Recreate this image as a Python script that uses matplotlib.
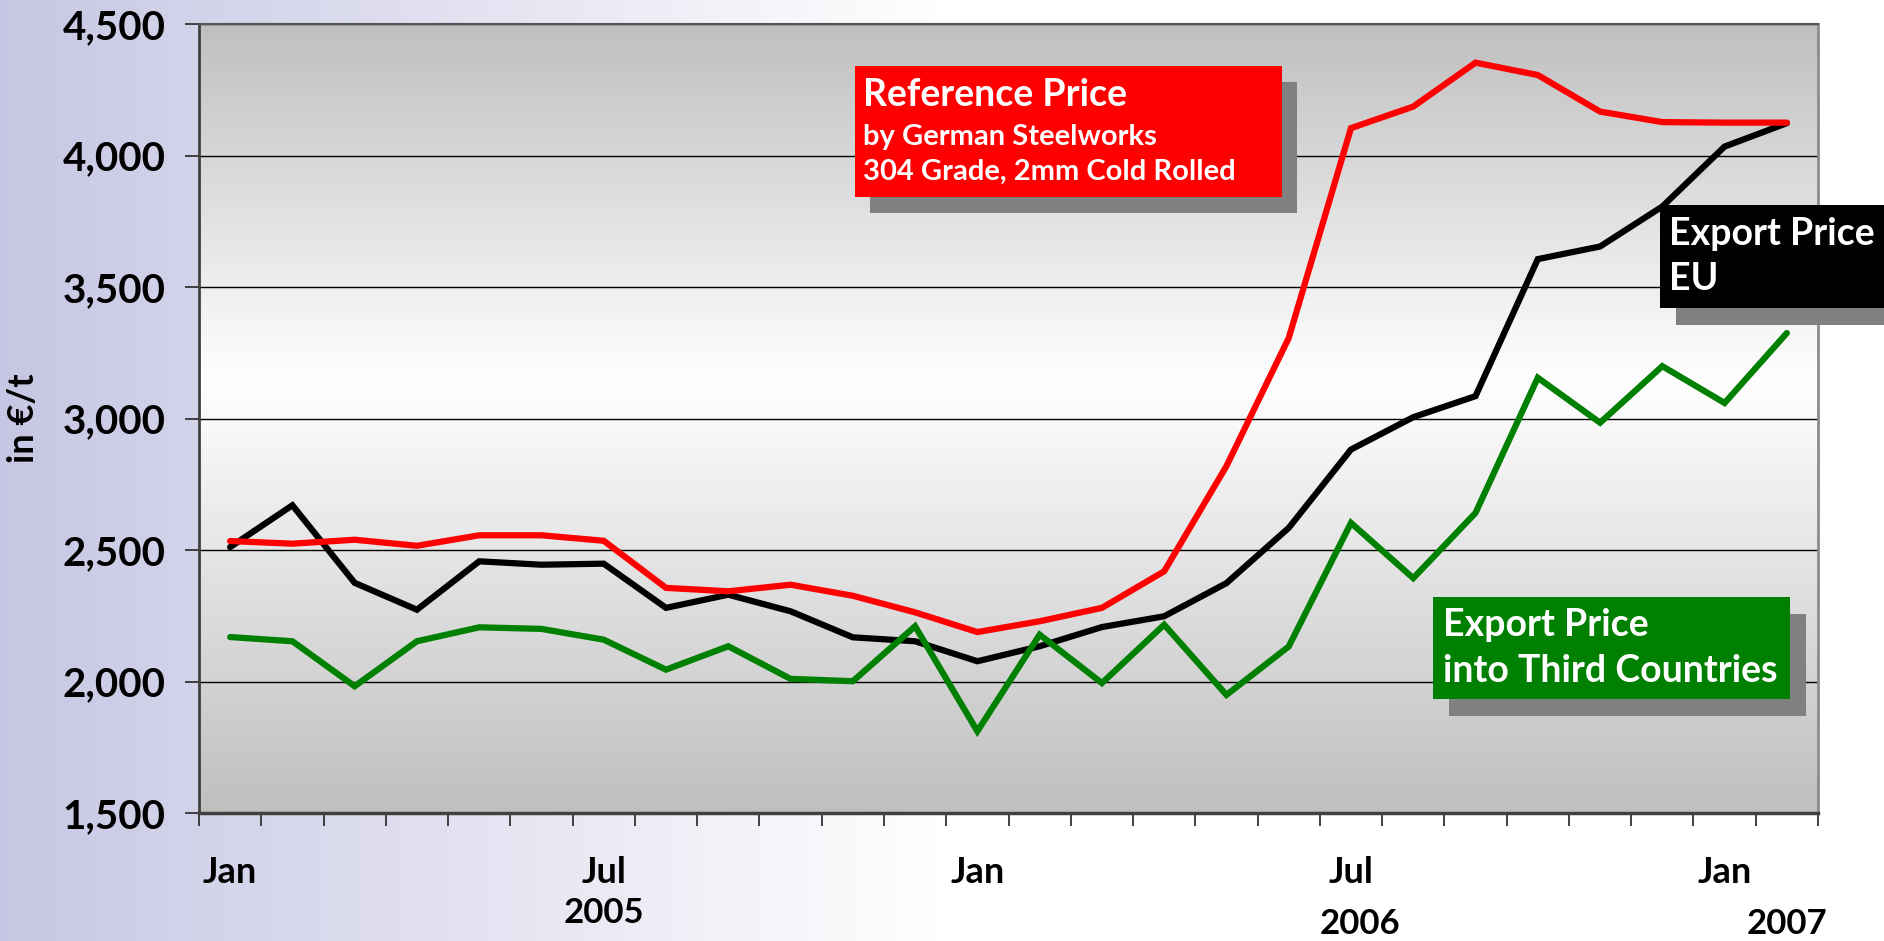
import numpy as np
import matplotlib
matplotlib.use("Agg")
import matplotlib.pyplot as plt
from matplotlib.patches import Rectangle
from matplotlib.colors import LinearSegmentedColormap
import matplotlib.transforms as mtransforms

# ---------------- data ----------------
months = ["Jan", "Feb", "Mar", "Apr", "May", "Jun", "Jul", "Aug", "Sep", "Oct", "Nov", "Dec",
          "Jan", "Feb", "Mar", "Apr", "May", "Jun", "Jul", "Aug", "Sep", "Oct", "Nov", "Dec",
          "Jan", "Feb"]
tick_labels = ["Jan", "", "", "", "", "", "Jul", "", "", "", "", "",
               "Jan", "", "", "", "", "", "Jul", "", "", "", "", "",
               "Jan", ""]
reference_price = [2534, 2524, 2539, 2516, 2556, 2556, 2535, 2356, 2343, 2368, 2326, 2263,
                   2188, 2229, 2280, 2419, 2819, 3306, 4104, 4186, 4353, 4306, 4167, 4127,
                   4125, 4125]
export_price_eu = [2511, 2670, 2375, 2273, 2457, 2444, 2448, 2280, 2330, 2267, 2168, 2153,
                   2077, 2134, 2207, 2248, 2374, 2584, 2882, 3005, 3085, 3606, 3654, 3806,
                   4034, 4123]
export_price_third = [2169, 2153, 1982, 2153, 2206, 2200, 2159, 2045, 2134, 2010, 2001, 2210,
                      1811, 2178, 1994, 2216, 1949, 2133, 2603, 2393, 2641, 3155, 2984, 3199,
                      3059, 3325]
y_ticks = [1500, 2000, 2500, 3000, 3500, 4000, 4500]
year_labels = ["2005", "2006", "2007"]
year_label_index = [6, 18.15, 25]
year_label_y = [-0.127, -0.141, -0.141]

FONT = ["Lato", "DejaVu Sans"]
plt.rcParams["font.family"] = FONT

W, H = 1884, 941
fig = plt.figure(figsize=(W / 100, H / 100), dpi=100)

# figure background gradient (lavender -> white, left to right)
bg = fig.add_axes([0, 0, 1, 1], zorder=-10)
grad = np.linspace(0, 1, 600)
cmap_bg = LinearSegmentedColormap.from_list(
    "bg", [(0.0, (0.78, 0.78, 0.895)), (0.5, (1, 1, 1)), (1.0, (1, 1, 1))])
bg.imshow(grad[None, :], aspect="auto", cmap=cmap_bg, extent=[0, 1, 0, 1])
bg.axis("off")


def px(x, y):
    return x / W, 1 - y / H


left, right, top, bottom = 199, 1818, 24, 813
ax = fig.add_axes([left / W, 1 - bottom / H, (right - left) / W, (bottom - top) / H])

# plot-area vertical gradient
g = np.linspace(0, 1, 500)[:, None]
cmap_pa = LinearSegmentedColormap.from_list(
    "pa", [(0.0, (0.75, 0.75, 0.75)), (0.45, (1, 1, 1)), (1.0, (0.75, 0.75, 0.75))])
ax.imshow(g, aspect="auto", cmap=cmap_pa, extent=[0, 1, 0, 1],
          transform=ax.transAxes, zorder=0)

x = np.arange(len(months))
ax.plot(x, export_price_eu, color="black", lw=4.5, zorder=3,
        solid_capstyle="round", solid_joinstyle="miter")
ax.plot(x, reference_price, color="#ff0000", lw=4.5, zorder=4,
        solid_capstyle="round", solid_joinstyle="miter")
ax.plot(x, export_price_third, color="#008000", lw=4.5, zorder=5,
        solid_capstyle="round", solid_joinstyle="miter")

ax.set_xlim(-0.5, len(months) - 0.5)
ax.set_ylim(1500, 4500)
ax.set_yticks(y_ticks)
ax.set_yticklabels([f"{v:,}" for v in y_ticks])
for v in y_ticks[1:]:
    ax.axhline(v, color="black", lw=1.0, zorder=1)

ax.set_xticks(x)
ax.set_xticklabels(tick_labels)
ax.set_xticks(np.arange(len(months) + 1) - 0.5, minor=True)
ax.tick_params(axis="x", which="major", length=0, pad=31, labelsize=26)
ax.tick_params(axis="x", which="minor", length=9, width=1.3, color="#333333")
ax.tick_params(axis="y", length=10, width=1.3, color="#333333", pad=14, labelsize=29)
for lab in ax.get_xticklabels() + ax.get_yticklabels():
    lab.set_fontweight("bold")

ax.spines["left"].set_color("#404040")
ax.spines["left"].set_linewidth(2)
ax.spines["bottom"].set_color("#404040")
ax.spines["bottom"].set_linewidth(2.5)
ax.spines["right"].set_color("#8c8c8c")
ax.spines["right"].set_linewidth(2)
ax.spines["top"].set_color("#555555")
ax.spines["top"].set_linewidth(1.5)

ax.set_ylabel("in €/t", fontsize=26, fontweight="bold")
ax.yaxis.set_label_coords(-0.0985, 0.5)

trans = mtransforms.blended_transform_factory(ax.transData, ax.transAxes)
for lab, xi, yy in zip(year_labels, year_label_index, year_label_y):
    ax.text(xi, yy, lab, transform=trans, ha="center", va="center",
            fontsize=25, fontweight="bold", clip_on=False)


def box(x0, y0, x1, y1, color, shadow=(15, 16), z=10):
    sx0, sy0 = px(x0 + shadow[0], y1 + shadow[1])
    sx1, sy1 = px(x1 + shadow[0], y0 + shadow[1])
    fig.add_artist(Rectangle((sx0, sy0), sx1 - sx0, sy1 - sy0, transform=fig.transFigure,
                             facecolor="#808080", edgecolor="none", zorder=z))
    bx0, by0 = px(x0, y1)
    bx1, by1 = px(x1, y0)
    fig.add_artist(Rectangle((bx0, by0), bx1 - bx0, by1 - by0, transform=fig.transFigure,
                             facecolor=color, edgecolor="none", zorder=z + 1))


def txt(xp, yp, s, size):
    fx, fy = px(xp, yp)
    fig.text(fx, fy, s, color="white", fontsize=size, fontweight="bold",
             va="baseline", ha="left", zorder=20)


# Reference price box
box(855, 66, 1282, 197, "#ff0000")
txt(863, 106, "Reference Price", 27)
txt(863, 145, "by German Steelworks", 21)
txt(863, 180, "304 Grade, 2mm Cold Rolled", 21)

# Export price EU box
box(1660, 205, 1900, 308, "#000000", shadow=(16, 17))
txt(1669, 245, "Export Price", 27)
txt(1669, 290, "EU", 27)

# Export price third countries box
box(1433, 597, 1790, 699, "#008000", shadow=(16, 17))
txt(1443, 636, "Export Price", 27)
txt(1443, 682, "into Third Countries", 27)

fig.savefig("out.png", dpi=100)
